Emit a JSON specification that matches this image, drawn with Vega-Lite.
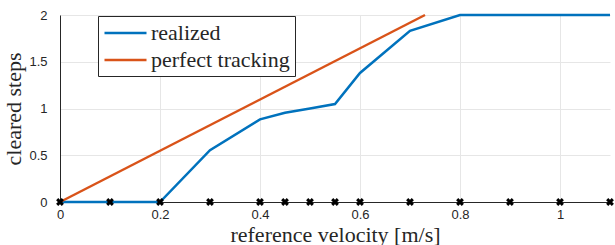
{
  "$schema": "https://vega.github.io/schema/vega-lite/v6.json",
  "width": 550,
  "height": 187,
  "autosize": {"type": "none"},
  "padding": {"left": 60, "top": 15, "right": 5, "bottom": 43},
  "background": "white",
  "datasets": {
    "lines": [
      {"v": 0, "steps": 0, "series": "realized"},
      {"v": 0.1, "steps": 0, "series": "realized"},
      {"v": 0.2, "steps": 0, "series": "realized"},
      {"v": 0.3, "steps": 0.555, "series": "realized"},
      {"v": 0.4, "steps": 0.884, "series": "realized"},
      {"v": 0.45, "steps": 0.955, "series": "realized"},
      {"v": 0.5, "steps": 1.0, "series": "realized"},
      {"v": 0.55, "steps": 1.048, "series": "realized"},
      {"v": 0.6, "steps": 1.38, "series": "realized"},
      {"v": 0.7, "steps": 1.83, "series": "realized"},
      {"v": 0.8, "steps": 2, "series": "realized"},
      {"v": 0.9, "steps": 2, "series": "realized"},
      {"v": 1.0, "steps": 2, "series": "realized"},
      {"v": 1.1, "steps": 2, "series": "realized"},
      {"v": 0, "steps": 0, "series": "perfect tracking"},
      {"v": 0.73, "steps": 2, "series": "perfect tracking"}
    ],
    "markers": [
      {"v": 0, "steps": 0},
      {"v": 0.1, "steps": 0},
      {"v": 0.2, "steps": 0},
      {"v": 0.3, "steps": 0},
      {"v": 0.4, "steps": 0},
      {"v": 0.45, "steps": 0},
      {"v": 0.5, "steps": 0},
      {"v": 0.55, "steps": 0},
      {"v": 0.6, "steps": 0},
      {"v": 0.7, "steps": 0},
      {"v": 0.8, "steps": 0},
      {"v": 0.9, "steps": 0},
      {"v": 1.0, "steps": 0},
      {"v": 1.1, "steps": 0}
    ]
  },
  "config": {
    "view": {"stroke": null},
    "axis": {
      "domainColor": "#262626",
      "domainWidth": 1,
      "gridColor": "#e6e6e6",
      "gridWidth": 1,
      "ticks": false,
      "labelFlush": false,
      "labelFont": "Liberation Sans",
      "labelFontSize": 13,
      "labelColor": "#262626",
      "titleFont": "Liberation Serif",
      "titleFontSize": 22,
      "titleFontWeight": "normal",
      "titleColor": "#262626"
    }
  },
  "layer": [
    {
      "data": {"name": "lines"},
      "mark": {"type": "line", "strokeWidth": 2.5, "clip": false},
      "encoding": {
        "x": {
          "field": "v",
          "type": "quantitative",
          "scale": {"domain": [0, 1.1], "nice": false, "zero": false},
          "axis": {
            "values": [0, 0.2, 0.4, 0.6, 0.8, 1],
            "title": "reference velocity [m/s]",
            "labelPadding": 6,
            "titlePadding": 3,
            "labelExpr": "datum.value"
          }
        },
        "y": {
          "field": "steps",
          "type": "quantitative",
          "scale": {"domain": [0, 2], "nice": false},
          "axis": {
            "values": [0, 0.5, 1, 1.5, 2],
            "title": "cleared steps",
            "labelPadding": 13,
            "titlePadding": 3,
            "labelExpr": "datum.value"
          }
        },
        "color": {
          "field": "series",
          "type": "nominal",
          "scale": {"domain": ["realized", "perfect tracking"], "range": ["#0072BD", "#D95319"]},
          "legend": {
            "title": null,
            "orient": "none",
            "legendX": 38,
            "legendY": 1,
            "symbolType": "M-2,0L2,0",
            "symbolSize": 441,
            "symbolStrokeWidth": 2.5,
            "symbolOffset": 10.5,
            "labelFont": "Liberation Serif",
            "labelFontSize": 22,
            "labelColor": "#262626",
            "labelOffset": 13.5,
            "rowPadding": 4,
            "padding": 5,
            "strokeColor": "#262626",
            "fillColor": "white"
          }
        },
        "order": {"field": "v", "type": "quantitative"}
      }
    },
    {
      "data": {"name": "markers"},
      "mark": {
        "type": "point",
        "shape": "M-1,-1L1,1M-1,1L1,-1",
        "filled": false,
        "stroke": "black",
        "strokeWidth": 3,
        "size": 32,
        "opacity": 1,
        "clip": false
      },
      "encoding": {
        "x": {"field": "v", "type": "quantitative"},
        "y": {"field": "steps", "type": "quantitative"}
      }
    }
  ]
}
